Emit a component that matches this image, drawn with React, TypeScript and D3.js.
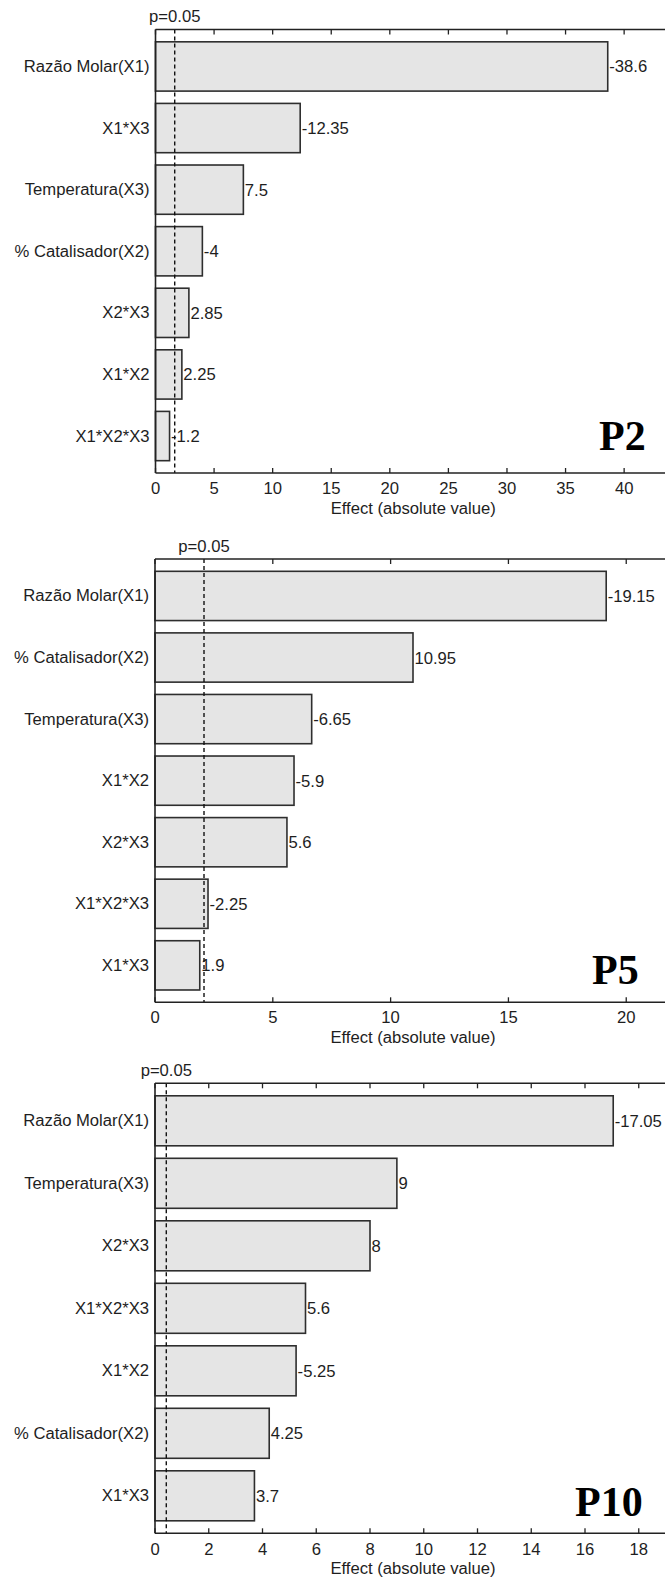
import React from "react";
import * as d3 from "d3";

// ---- Data (Pareto charts of standardized effects) ----
const p2Factors = ["Razão Molar(X1)", "X1*X3", "Temperatura(X3)", "% Catalisador(X2)", "X2*X3", "X1*X2", "X1*X2*X3"];
const p2Effects = [-38.6, -12.35, 7.5, -4, 2.85, 2.25, -1.2];
const p2Ticks = [0, 5, 10, 15, 20, 25, 30, 35, 40];
const p2Limit = 1.64;

const p5Factors = ["Razão Molar(X1)", "% Catalisador(X2)", "Temperatura(X3)", "X1*X2", "X2*X3", "X1*X2*X3", "X1*X3"];
const p5Effects = [-19.15, 10.95, -6.65, -5.9, 5.6, -2.25, 1.9];
const p5Ticks = [0, 5, 10, 15, 20];
const p5Limit = 2.08;

const p10Factors = ["Razão Molar(X1)", "Temperatura(X3)", "X2*X3", "X1*X2*X3", "X1*X2", "% Catalisador(X2)", "X1*X3"];
const p10Effects = [-17.05, 9, 8, 5.6, -5.25, 4.25, 3.7];
const p10Ticks = [0, 2, 4, 6, 8, 10, 12, 14, 16, 18];
const p10Limit = 0.42;

const panelNames = ["P2", "P5", "P10"];
const axisMax = [44, 21.9, 19.2];
const pLabel = "p=0.05";
const xTitle = "Effect (absolute value)";

const W = 665;
const H = 1583;
const SANS = "'Liberation Sans', Arial, sans-serif";
const SERIF = "'Liberation Serif', 'Times New Roman', serif";
const SX = 1.04; // slight horizontal stretch of the sans text
const INK = "#1e1e1e";

type PanelProps = {
  name: string;
  factors: string[];
  effects: number[];
  ticks: number[];
  limit: number;
  max: number;
  box: { left: number; right: number; top: number; bottom: number };
  nameX: number;
  nameBase: number;
  tickGap: number;
};

function SText(props: { x: number; y: number; anchor?: string; size?: number; children: React.ReactNode }) {
  const { x, y, anchor = "start", size = 16, children } = props;
  return (
    <text
      transform={`translate(${x},${y}) scale(${SX},1)`}
      textAnchor={anchor as any}
      fontFamily={SANS}
      fontSize={size}
      fill={INK}
    >
      {children}
    </text>
  );
}

function Panel({ name, factors, effects, ticks, limit, max, box, nameX, nameBase, tickGap }: PanelProps) {
  const x = d3.scaleLinear().domain([0, max]).range([box.left, box.right]);
  const y = d3.scaleBand<string>().domain(factors).range([box.top, box.bottom]).padding(0.2);
  const bw = y.bandwidth();
  const fmt = (v: number) => String(v);
  return (
    <g>
      {/* bars */}
      {factors.map((f, i) => {
        const v = Math.abs(effects[i]);
        const y0 = y(f)!;
        return (
          <g key={f}>
            <rect
              x={x(0)}
              y={y0}
              width={x(v) - x(0)}
              height={bw}
              fill="#e5e5e5"
              stroke="#2e2e2e"
              strokeWidth={1.6}
            />
            <SText x={box.left - 6} y={y0 + bw / 2 + 5.5} anchor="end">
              {f}
            </SText>
            <SText x={x(v) + 1.5} y={y0 + bw / 2 + 6}>
              {fmt(effects[i])}
            </SText>
          </g>
        );
      })}
      {/* significance line */}
      <line
        x1={x(limit)}
        x2={x(limit)}
        y1={box.top}
        y2={box.bottom}
        stroke="#111"
        strokeWidth={1.4}
        strokeDasharray="4,3"
      />
      <SText x={x(limit)} y={box.top - 7.5} anchor="middle">
        {pLabel}
      </SText>
      {/* frame */}
      <line x1={box.left} x2={box.right} y1={box.top} y2={box.top} stroke="#222" strokeWidth={1.6} />
      <line x1={box.left} x2={box.right} y1={box.bottom} y2={box.bottom} stroke="#222" strokeWidth={1.6} />
      <line x1={box.left} x2={box.left} y1={box.top} y2={box.bottom} stroke="#222" strokeWidth={1.6} />
      <line x1={box.right} x2={box.right} y1={box.top} y2={box.bottom} stroke="#222" strokeWidth={1.6} />
      {/* ticks */}
      {ticks.map((t) => (
        <g key={t}>
          <line x1={x(t)} x2={x(t)} y1={box.top} y2={box.top + 5} stroke="#222" strokeWidth={1.3} />
          <line x1={x(t)} x2={x(t)} y1={box.bottom} y2={box.bottom - 5} stroke="#222" strokeWidth={1.3} />
          <SText x={x(t)} y={box.bottom + tickGap} anchor="middle">
            {t}
          </SText>
        </g>
      ))}
      <SText x={(box.left + box.right) / 2} y={box.bottom + 41} anchor="middle">
        {xTitle}
      </SText>
      <text x={nameX} y={nameBase} fontFamily={SERIF} fontWeight="bold" fontSize={42} fill="#000">
        {name}
      </text>
    </g>
  );
}

export default function App() {
  const panels: PanelProps[] = [
    {
      name: panelNames[0],
      factors: p2Factors,
      effects: p2Effects,
      ticks: p2Ticks,
      limit: p2Limit,
      max: axisMax[0],
      box: { left: 155.5, right: 671, top: 29.5, bottom: 473 },
      nameX: 599,
      nameBase: 450,
      tickGap: 20.5,
    },
    {
      name: panelNames[1],
      factors: p5Factors,
      effects: p5Effects,
      ticks: p5Ticks,
      limit: p5Limit,
      max: axisMax[1],
      box: { left: 155, right: 671, top: 559, bottom: 1002.3 },
      nameX: 592,
      nameBase: 984,
      tickGap: 21,
    },
    {
      name: panelNames[2],
      factors: p10Factors,
      effects: p10Effects,
      ticks: p10Ticks,
      limit: p10Limit,
      max: axisMax[2],
      box: { left: 155, right: 671, top: 1083.3, bottom: 1533.3 },
      nameX: 575,
      nameBase: 1516,
      tickGap: 22,
    },
  ];
  return (
    <svg
      width={W}
      height={H}
      viewBox={`0 0 ${W} ${H}`}
      style={{ position: "absolute", left: 0, top: 0, background: "#fff" }}
    >
      <rect width={W} height={H} fill="#fff" />
      {panels.map((p) => (
        <Panel key={p.name} {...p} />
      ))}
    </svg>
  );
}
